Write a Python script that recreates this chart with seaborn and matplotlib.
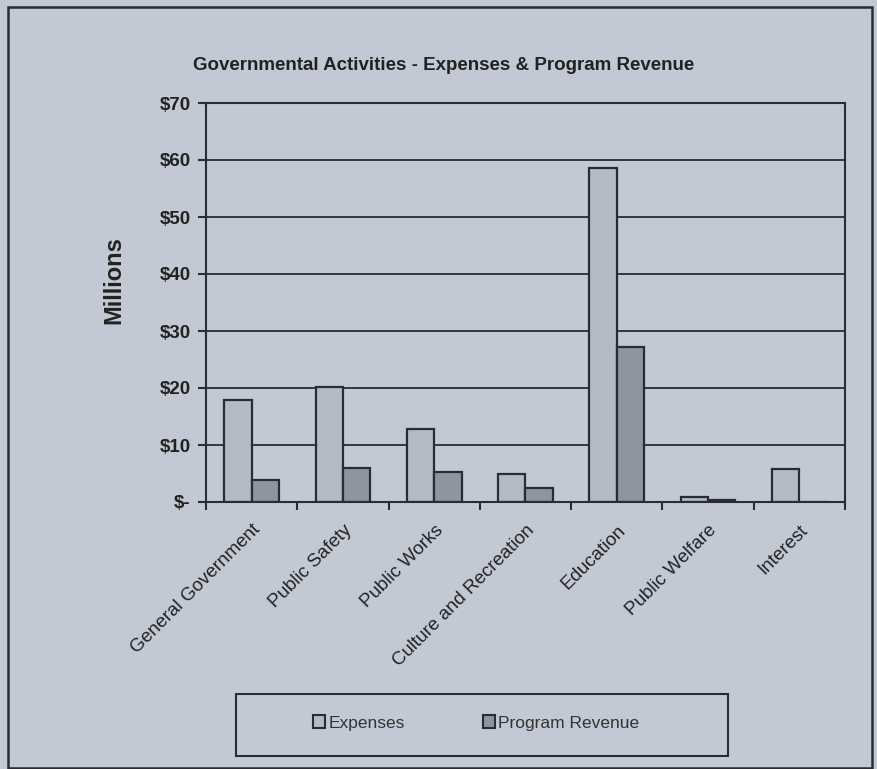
import matplotlib
matplotlib.use("Agg")
import matplotlib.pyplot as plt
import seaborn as sns
import pandas as pd
from matplotlib.patches import Rectangle, Patch
from matplotlib.ticker import FixedLocator

categories = ["General Government", "Public Safety", "Public Works",
              "Culture and Recreation", "Education", "Public Welfare", "Interest"]
expenses = [17.9, 20.2, 12.8, 4.9, 58.6, 0.9, 5.8]
program_revenue = [3.9, 6.0, 5.2, 2.5, 27.2, 0.4, 0.0]
series_names = ["Expenses", "Program Revenue"]
y_ticks = [0, 10, 20, 30, 40, 50, 60, 70]
y_tick_labels = ["$-", "$10", "$20", "$30", "$40", "$50", "$60", "$70"]

df = pd.DataFrame({
    "Category": categories * 2,
    "Series": [series_names[0]] * len(categories) + [series_names[1]] * len(categories),
    "Value": expenses + program_revenue,
})

sns.set_theme(style="white")
plt.rcParams["font.family"] = ["Liberation Sans", "DejaVu Sans"]

bg = "#c2c9d4"
edge = "#2a2b33"
colors = {"Expenses": "#b3bac4", "Program Revenue": "#8f959e"}

fig = plt.figure(figsize=(8.77, 7.69), dpi=100, facecolor=bg)
ax = fig.add_axes([206/877, 1-502/769, (845-206)/877, (502-103)/769])
ax.set_facecolor(bg)

sns.barplot(data=df, x="Category", y="Value", hue="Series", order=categories,
            hue_order=series_names, palette=colors, width=0.6, gap=0,
            edgecolor=edge, linewidth=1.6, saturation=1, legend=False, ax=ax)

ax.set_xlim(-0.5, len(categories) - 0.5)
ax.set_ylim(0, 70)
ax.set_yticks(y_ticks)
ax.set_yticklabels(y_tick_labels, fontsize=13.5, fontweight="bold", color="#222")
for y in y_ticks[1:]:
    ax.axhline(y, color=edge, lw=1.3, zorder=0)

ax.xaxis.set_major_locator(FixedLocator([i - 0.5 for i in range(len(categories) + 1)]))
ax.xaxis.set_minor_locator(FixedLocator(list(range(len(categories)))))
ax.set_xticklabels([], minor=False)
ax.set_xticklabels(categories, minor=True, rotation=45, ha="right",
                   rotation_mode="anchor", fontsize=13.5, color="#222")
ax.tick_params(axis="x", which="major", direction="out", length=6, width=1.5,
               color=edge, bottom=True)
ax.tick_params(axis="x", which="minor", length=0, pad=14)
ax.tick_params(axis="y", direction="out", length=6, width=1.5, color=edge, left=True, pad=5)
ax.set_xlabel("")
ax.set_ylabel("")
for s in ax.spines.values():
    s.set_visible(True)
    s.set_color(edge)
    s.set_linewidth(1.5)

fig.text(114/877, 1-280/769, "Millions", rotation=90, ha="center", va="center",
         fontsize=17, fontweight="bold", color="#222")

fig.text(444/877, 1-66/769, "Governmental Activities - Expenses & Program Revenue",
         ha="center", va="center", fontsize=13.5, fontweight="bold", color="#222")

# legend box
fig.patches.append(Rectangle((236/877, 1-756/769), (728-236)/877, (756-694)/769,
                             transform=fig.transFigure, facecolor=bg,
                             edgecolor=edge, linewidth=1.5))
handles = [Patch(facecolor=colors[s], edgecolor=edge, linewidth=1.5) for s in series_names]
leg = fig.legend(handles, series_names, loc="center", ncol=2,
                 bbox_to_anchor=(476/877, 1-723/769),
                 frameon=False, fontsize=12.5, handlelength=0.7,
                 handleheight=0.7, handletextpad=0.2, columnspacing=4.5)
for t in leg.get_texts():
    t.set_color("#333")

fig.patches.append(Rectangle((8/877, 1-768/769), (872-8)/877, (768-7)/769,
                             transform=fig.transFigure, fill=False,
                             edgecolor=edge, linewidth=1.8))

fig.savefig("out.png", dpi=100, facecolor=bg)
